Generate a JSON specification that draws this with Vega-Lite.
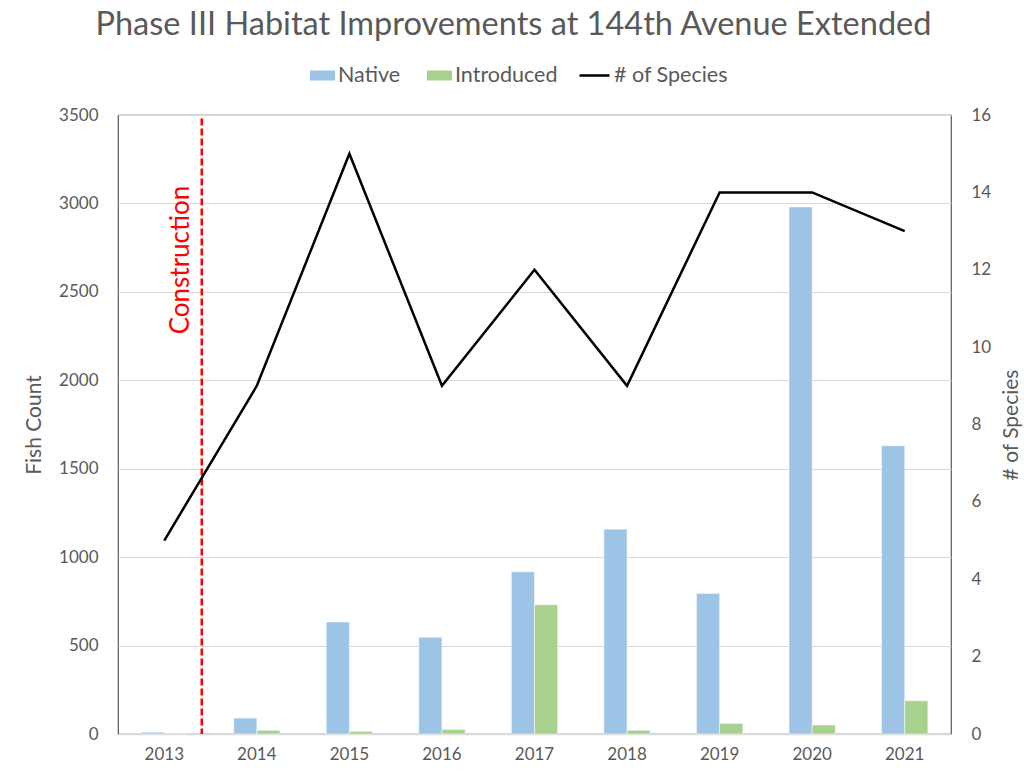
{
  "$schema": "https://vega.github.io/schema/vega-lite/v6.json",
  "width": 833,
  "height": 619,
  "autosize": "none",
  "padding": {"left": 118, "top": 115, "right": 73, "bottom": 38},
  "background": "white",
  "config": {
    "font": "Lato",
    "view": {"stroke": "#595959", "strokeWidth": 1.2},
    "axis": {
      "labelColor": "#595959",
      "titleColor": "#595959",
      "labelFontSize": 17,
      "titleFontSize": 21,
      "titleFontWeight": "normal",
      "ticks": false,
      "gridColor": "#d9d9d9",
      "gridWidth": 1.2
    },
    "legend": {
      "labelFontSize": 21.5,
      "labelColor": "#595959",
      "labelOffset": 3
    }
  },
  "title": {
    "text": "Phase III Habitat Improvements at 144th Avenue Extended",
    "fontSize": 32.5,
    "fontWeight": "normal",
    "color": "#595959",
    "anchor": "middle",
    "frame": "group",
    "dx": -21,
    "offset": 18
  },
  "datasets": {
    "counts": [
      {"year": "2013", "origin": "Native", "count": 10},
      {"year": "2013", "origin": "Introduced", "count": 5},
      {"year": "2014", "origin": "Native", "count": 90},
      {"year": "2014", "origin": "Introduced", "count": 21},
      {"year": "2015", "origin": "Native", "count": 633},
      {"year": "2015", "origin": "Introduced", "count": 15},
      {"year": "2016", "origin": "Native", "count": 547},
      {"year": "2016", "origin": "Introduced", "count": 26},
      {"year": "2017", "origin": "Native", "count": 917},
      {"year": "2017", "origin": "Introduced", "count": 731},
      {"year": "2018", "origin": "Native", "count": 1158},
      {"year": "2018", "origin": "Introduced", "count": 21},
      {"year": "2019", "origin": "Native", "count": 795},
      {"year": "2019", "origin": "Introduced", "count": 60},
      {"year": "2020", "origin": "Native", "count": 2980},
      {"year": "2020", "origin": "Introduced", "count": 51},
      {"year": "2021", "origin": "Native", "count": 1630},
      {"year": "2021", "origin": "Introduced", "count": 188}
    ],
    "species": [
      {"year": "2013", "series": "# of Species", "species": 5},
      {"year": "2014", "series": "# of Species", "species": 9},
      {"year": "2015", "series": "# of Species", "species": 15},
      {"year": "2016", "series": "# of Species", "species": 9},
      {"year": "2017", "series": "# of Species", "species": 12},
      {"year": "2018", "series": "# of Species", "species": 9},
      {"year": "2019", "series": "# of Species", "species": 14},
      {"year": "2020", "series": "# of Species", "species": 14},
      {"year": "2021", "series": "# of Species", "species": 13}
    ],
    "events": [
      {"year": "2013", "event": "Construction"}
    ]
  },
  "encoding": {
    "x": {
      "field": "year",
      "type": "ordinal",
      "title": null,
      "scale": {"paddingInner": 0, "paddingOuter": 0},
      "axis": {
        "labelAngle": 0,
        "labelPadding": 12,
        "domainColor": "#d9d9d9",
        "domainWidth": 1.5
      }
    }
  },
  "layer": [
    {
      "layer": [
        {
          "data": {"name": "counts"},
          "mark": {"type": "bar", "stroke": "white", "strokeWidth": 0.5},
          "encoding": {
            "xOffset": {
              "field": "origin",
              "type": "nominal",
              "sort": ["Native", "Introduced"],
              "scale": {"paddingInner": 0, "paddingOuter": 1.1}
            },
            "y": {
              "field": "count",
              "type": "quantitative",
              "title": "Fish Count",
              "scale": {"domain": [0, 3500]},
              "axis": {
                "values": [0, 500, 1000, 1500, 2000, 2500, 3000, 3500],
                "format": "d",
                "domain": false,
                "labelPadding": 20,
                "titlePadding": 14
              }
            },
            "color": {
              "field": "origin",
              "type": "nominal",
              "sort": ["Native", "Introduced"],
              "scale": {
                "domain": ["Native", "Introduced"],
                "range": ["#9dc3e6", "#a9d18e"]
              },
              "legend": {
                "title": null,
                "orient": "none",
                "direction": "horizontal",
                "legendX": 192,
                "legendY": -52,
                "symbolType": "M-1,-0.4H1V0.4H-1Z",
                "symbolSize": 625,
                "symbolStrokeWidth": 0,
                "columnPadding": 26
              }
            }
          }
        },
        {
          "data": {"name": "events"},
          "mark": {"type": "rule", "color": "#ff0000", "strokeWidth": 2.5, "strokeDash": [7, 3]},
          "encoding": {
            "x": {"field": "year", "type": "ordinal", "bandPosition": 0.905},
            "y": {"datum": 3480},
            "y2": {"datum": 0}
          }
        },
        {
          "data": {"name": "events"},
          "mark": {
            "type": "text",
            "color": "#ff0000",
            "fontSize": 26,
            "angle": 270,
            "align": "center",
            "baseline": "middle"
          },
          "encoding": {
            "x": {"field": "year", "type": "ordinal", "bandPosition": 0.68},
            "y": {"datum": 2680},
            "text": {"field": "event"}
          }
        }
      ]
    },
    {
      "data": {"name": "species"},
      "mark": {"type": "line", "strokeWidth": 2.5},
      "encoding": {
        "y": {
          "field": "species",
          "type": "quantitative",
          "title": "# of Species",
          "scale": {"domain": [0, 16]},
          "axis": {
            "orient": "right",
            "values": [0, 2, 4, 6, 8, 10, 12, 14, 16],
            "grid": false,
            "domain": false,
            "labelPadding": 20,
            "titleAngle": 270,
            "titlePadding": 31
          }
        },
        "stroke": {
          "field": "series",
          "type": "nominal",
          "scale": {"domain": ["# of Species"], "range": ["#000000"]},
          "legend": {
            "title": null,
            "orient": "none",
            "legendX": 460,
            "legendY": -56,
            "symbolType": "stroke",
            "symbolSize": 900,
            "symbolStrokeWidth": 2.5
          }
        }
      }
    }
  ],
  "resolve": {"scale": {"y": "independent"}}
}
